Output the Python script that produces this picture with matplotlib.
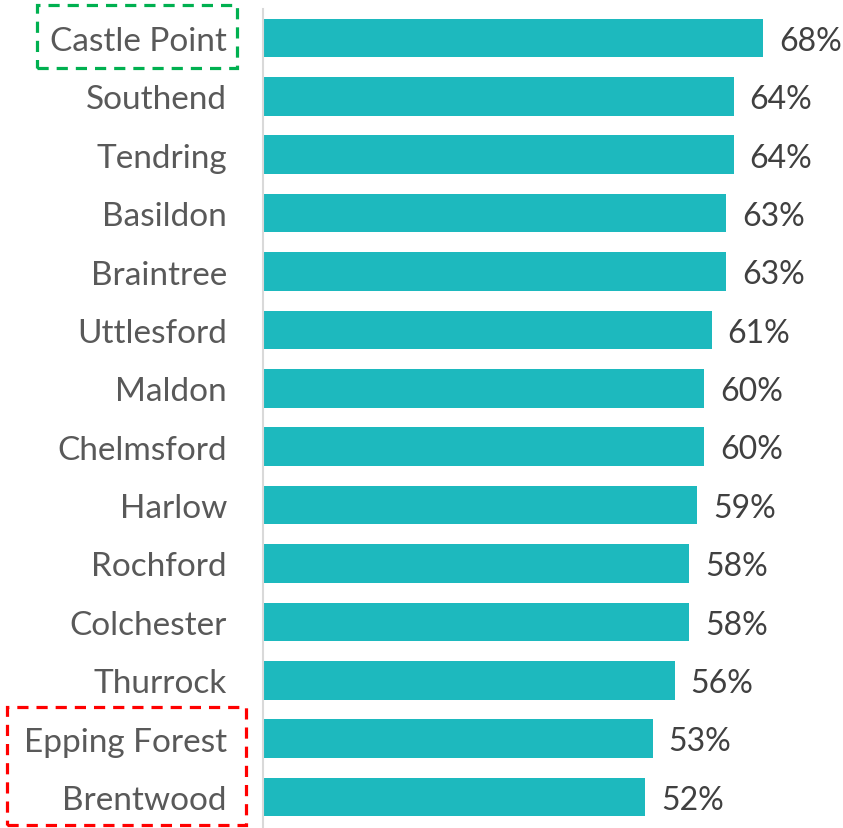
import matplotlib.pyplot as plt
from matplotlib.patches import Rectangle

areas = ['Castle Point', 'Southend', 'Tendring', 'Basildon', 'Braintree', 'Uttlesford',
         'Maldon', 'Chelmsford', 'Harlow', 'Rochford', 'Colchester', 'Thurrock',
         'Epping Forest', 'Brentwood']
pct = [68, 64, 64, 63, 63, 61, 60, 60, 59, 58, 58, 56, 53, 52]

W, H = 843, 829
fig = plt.figure(figsize=(W / 100, H / 100), dpi=100)
ax = fig.add_axes([263 / W, 0, 1 - 263 / W, 1])

ypos = list(range(len(areas)))
ax.barh(ypos, pct, height=0.66, color='#1DB9BE')
for y, v in zip(ypos, pct):
    ax.annotate(f'{v}%', (v, y), xytext=(11.5, -2), textcoords='offset points',
                ha='left', va='center', fontsize=23, color='#404040', family='Lato')

ax.set_xlim(0, 580 / 7.353)
ax.set_ylim(13 + 31 / 58.4, -39 / 58.4)
ax.set_yticks(ypos)
ax.set_yticklabels(areas, fontsize=24, color='#595959', family='Lato')
ax.tick_params(axis='y', length=0, pad=26)
ax.set_xticks([])
for s in ['top', 'right', 'bottom']:
    ax.spines[s].set_visible(False)
ax.spines['left'].set_color('#D9D9D9')
ax.spines['left'].set_linewidth(1.5)
ax.spines['left'].set_bounds(-0.5, 13 + 31 / 58.4)

# highlight boxes (pixel coords)
def box(x0, y0, x1, y1, color):
    r = Rectangle((x0 / W, 1 - y1 / H), (x1 - x0) / W, (y1 - y0) / H,
                  transform=fig.transFigure, fill=False, edgecolor=color,
                  linewidth=2.3, linestyle=(0, (3.5, 2.5)), clip_on=False)
    fig.patches.append(r)

box(37, 6, 237, 69, '#00B050')
box(7, 708, 246, 826, '#FF0000')

fig.savefig('out.png', dpi=100)
